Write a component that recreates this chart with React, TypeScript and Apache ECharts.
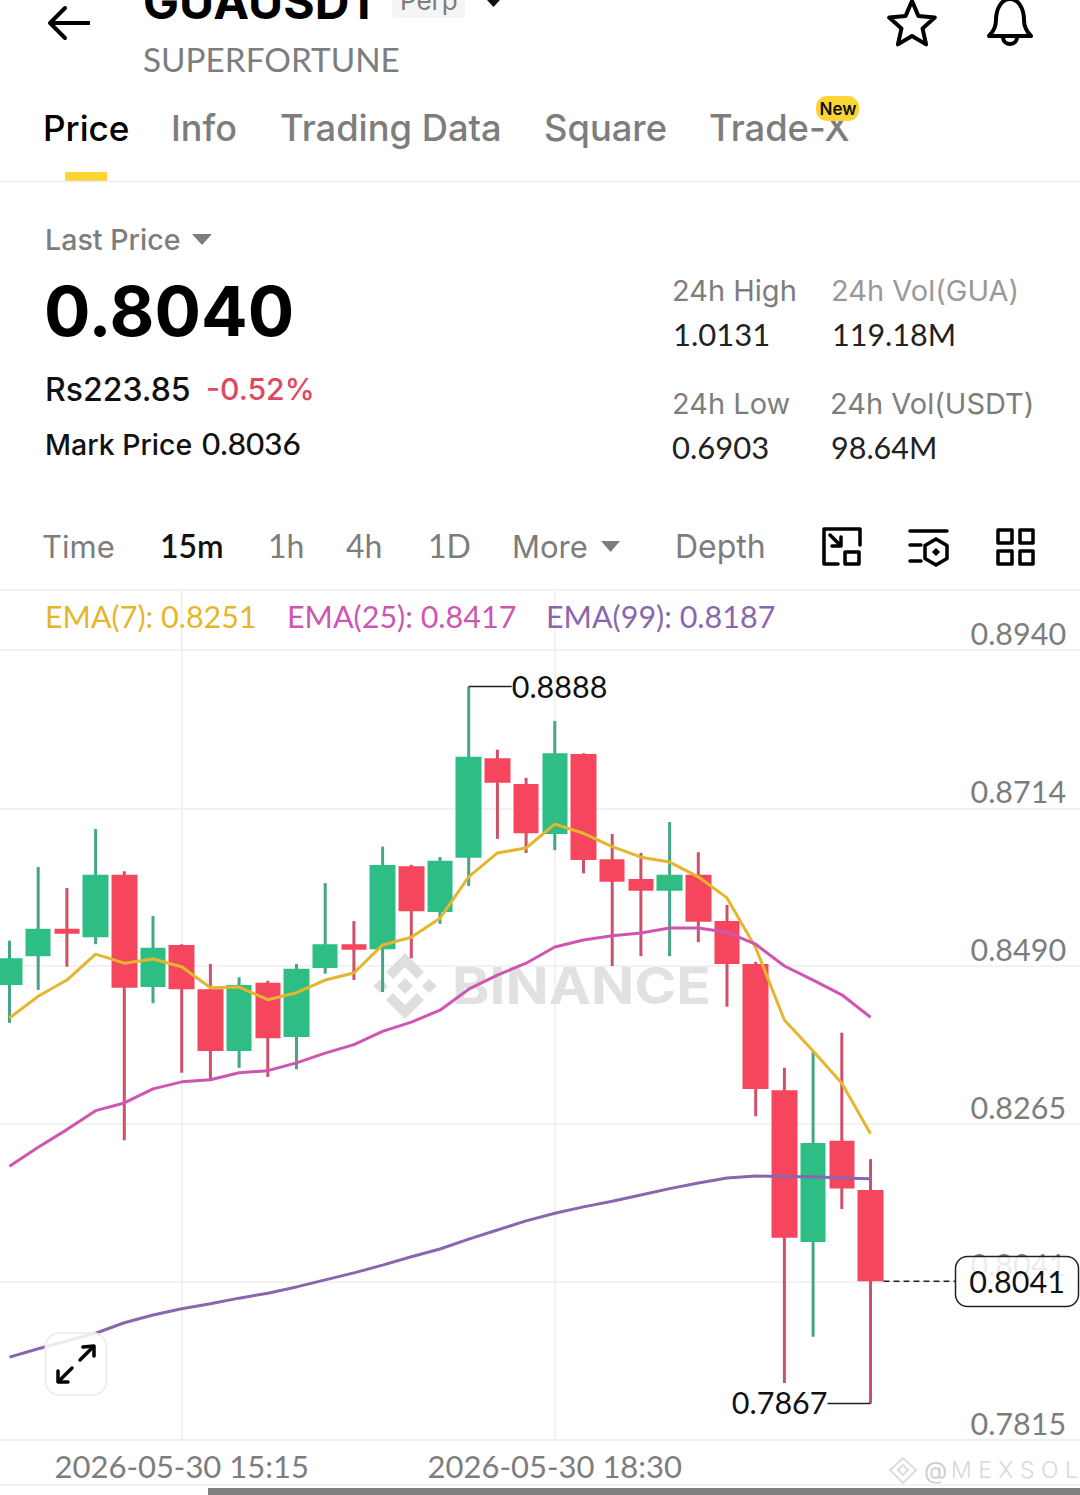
import React, { useEffect, useRef } from "react";
import * as echarts from "echarts";

const timeSlots = ["13:30","13:45","14:00","14:15","14:30","14:45","15:00","15:15","15:30","15:45","16:00","16:15","16:30","16:45","17:00","17:15","17:30","17:45","18:00","18:15","18:30","18:45","19:00","19:15","19:30","19:45","20:00","20:15","20:30","20:45","21:00","21:15","21:30","21:45","22:00","22:15","22:30","22:45","23:00","23:15"];
const labelledTimes = ["15:15", "18:30"];
const priceTicks = [0.7815, 0.8041, 0.8265, 0.849, 0.8714, 0.894];

// open, close, low, high
const candles = [
  [0.8463,0.8501,0.8409,0.8526],[0.8504,0.8543,0.8456,0.8631],[0.8543,0.8536,0.8489,0.8601],[0.8531,0.862,0.8521,0.8685],
  [0.862,0.8459,0.8242,0.8625],[0.846,0.8516,0.8437,0.8561],[0.852,0.8457,0.8338,0.8521],[0.8457,0.8369,0.8328,0.8493],
  [0.8369,0.8463,0.8345,0.8474],[0.8466,0.8387,0.8332,0.8469],[0.8389,0.8486,0.8343,0.8493],[0.8487,0.8521,0.8479,0.8608],
  [0.8521,0.8513,0.847,0.8554],[0.8514,0.8634,0.8453,0.866],[0.8632,0.8568,0.8501,0.8634],[0.8567,0.864,0.855,0.8645],
  [0.8644,0.8788,0.8604,0.8888],[0.8786,0.8751,0.8671,0.8798],[0.8749,0.8679,0.8651,0.8758],[0.8678,0.8793,0.8655,0.8839],
  [0.8792,0.8641,0.8622,0.8793],[0.8642,0.861,0.849,0.8678],[0.8614,0.8597,0.8504,0.8651],[0.8597,0.862,0.8504,0.8695],
  [0.862,0.8553,0.8524,0.8652],[0.8554,0.8493,0.8432,0.8577],[0.8493,0.8315,0.8276,0.8496],[0.8313,0.8103,0.7896,0.8345],
  [0.8097,0.8238,0.7962,0.837],[0.8241,0.8173,0.8144,0.8395],[0.8171,0.8041,0.7867,0.8215],
];
const ema7 = [0.8416,0.8447,0.847,0.8507,0.8494,0.85,0.8489,0.8459,0.846,0.8442,0.8452,0.847,0.848,0.852,0.8531,0.8558,0.8617,0.8651,0.8658,0.8692,0.8679,0.866,0.8645,0.8638,0.8617,0.8587,0.8516,0.8413,0.8369,0.8323,0.8251];
const ema25 = [0.8205,0.8232,0.8257,0.8284,0.8295,0.8315,0.8325,0.8328,0.8338,0.8341,0.8352,0.8366,0.8378,0.8397,0.841,0.8427,0.8457,0.8477,0.8494,0.8517,0.8527,0.8533,0.8537,0.8544,0.8544,0.8538,0.8521,0.849,0.847,0.8449,0.8417];
const ema99 = [0.7933,0.7945,0.7956,0.7967,0.7982,0.7993,0.8002,0.8009,0.8017,0.8024,0.8033,0.8043,0.8053,0.8064,0.8076,0.8087,0.8101,0.8114,0.8127,0.8138,0.8147,0.8155,0.8164,0.8173,0.8181,0.8188,0.8191,0.819,0.819,0.8188,0.8187];
const highMark = { index: 16, value: 0.8888 };
const lowMark = { index: 30, value: 0.7867 };
const lastClose = 0.8041;

const UP = "#2ebd85", DOWN = "#f6465d", UP_WICK = "#44a588", DOWN_WICK = "#cf5069";
const GREY = "#7d7d7d", GRID = "#eeeeee";
const FONT = "Inter", NUM = "Lato";
const PREFIX = "2026-05-30 ";

echarts.graphic.registerShape("bellIcon", echarts.graphic.extendPath("M989 36 C993 32 996 28 996 20 C996 8 1002 -1 1010 -1 C1018 -1 1024 8 1024 20 C1024 28 1027 32 1031 36 Z M1003 38 C1004 46 1016 46 1017 38", {}));
echarts.graphic.registerShape("frameIcon", echarts.graphic.extendPath("M860 545 V529 H824 V564 H838 M845 552 H859 V564 H845 Z M830 535 L841 546 M841 537 V546 H832", {}));
echarts.graphic.registerShape("filterIcon", echarts.graphic.extendPath("M910 531 H947 M910 545 H921 M910 561 H921 M936 539 L947 545.5 V558.5 L936 565 L925 558.5 V545.5 Z", {}));
echarts.graphic.registerShape("gridIcon", echarts.graphic.extendPath("M998 530 H1012 V543 H998 Z M1020 530 H1033 V543 H1020 Z M998 551 H1012 V564 H998 Z M1020 551 H1033 V564 H1020 Z", {}));
echarts.graphic.registerShape("binanceLogo", echarts.graphic.extendPath("M405 953 L424 972 L417 979 L405 967 L393 979 L386 972 Z M405 1019 L424 1000 L417 993 L405 1005 L393 993 L386 1000 Z M405 978 L413 986 L405 994 L397 986 Z M381 979 L388 986 L381 993 L373 986 Z M429 979 L437 986 L429 993 L422 986 Z", {}));
echarts.graphic.registerShape("mexLogo", echarts.graphic.extendPath("M903 1458 L916 1470 L903 1483 L890 1470 Z M903 1465 L908 1470 L903 1475 L898 1470 Z", {}));

const txt = (text: string, x: number, y: number, size: number, fill: string, weight: any = 400, align = "left", z = 50, font = FONT, scaleX = 1) => ({
  type: "text", x, y, z, silent: true, scaleX,
  style: { text, fontSize: size, fontFamily: font, fontWeight: weight, fill, align, verticalAlign: "middle" },
});
const rect = (x: number, y: number, width: number, height: number, fill: string, r = 0, z = 50, stroke?: string, lineWidth = 0) => ({
  type: "rect", z, silent: true, shape: { x, y, width, height, r }, style: { fill, stroke, lineWidth },
});
const seg = (x1: number, y1: number, x2: number, y2: number, stroke: string, lineWidth = 2, z = 50, lineDash?: number[]) => ({
  type: "line", z, silent: true, shape: { x1, y1, x2, y2 }, style: { stroke, lineWidth, lineDash },
});
const poly = (points: number[][], fill: string, z = 50) => ({ type: "polygon", z, silent: true, shape: { points }, style: { fill } });
const pline = (points: number[][], stroke: string, lineWidth = 3.5, z = 50) => ({
  type: "polyline", z, silent: true, shape: { points }, style: { stroke, lineWidth, fill: "none", lineCap: "round", lineJoin: "round" },
});
const icon = (type: string, stroke = "#000", lineWidth = 3.5, z = 50) => ({ type, z, silent: true, style: { stroke, fill: "none", lineWidth, lineJoin: "round", lineCap: "round" } });

const starPoints = [[912,1],[918.5,16.1],[934.8,17.6],[922.5,28.4],[926.1,44.4],[912,36],[897.9,44.4],[901.5,28.4],[889.2,17.6],[905.5,16.1]];

export default function App() {
  const ref = useRef<HTMLDivElement>(null);
  useEffect(() => {
    document.body.style.margin = "0";
    const chart = echarts.init(ref.current!, undefined, { renderer: "svg", width: 1080, height: 1495 });
    const categories = timeSlots.map((t) => PREFIX + t);
    const isLabelled = (_: number, v: string) => labelledTimes.some((t) => PREFIX + t === v);
    const pad = (a: number[]) => ["-", ...a];
    const base: any = {
      animation: false,
      backgroundColor: "#ffffff",
      grid: { left: -19.2, top: 650, width: 1119.3, height: 790, containLabel: false, outerBoundsMode: "none" },
      xAxis: {
        type: "category", data: categories, boundaryGap: false,
        axisLine: { show: true, lineStyle: { color: GRID, width: 1.5 } },
        axisTick: { show: false },
        axisLabel: { interval: isLabelled, color: GREY, fontFamily: NUM, fontSize: 31, margin: 10 },
        splitLine: { show: true, interval: isLabelled, lineStyle: { color: GRID, width: 1.5 } },
      },
      yAxis: {
        type: "value", position: "right", min: 0.7815, max: 0.894, scale: true,
        axisLine: { show: false },
        axisTick: { show: false, customValues: priceTicks },
        axisLabel: {
          inside: true, margin: 34, customValues: priceTicks, color: GREY, fontFamily: NUM, fontSize: 30.5,
          verticalAlign: "bottom", padding: [0, 0, 2, 0], formatter: (v: number) => v.toFixed(4),
        },
        splitLine: { show: true, lineStyle: { color: GRID, width: 1.5 } },
      },
      series: [
        {
          type: "custom", z: 2, silent: true,
          data: candles.map((c, i) => [i + 1, c[2], c[3], c[1] >= c[0] ? 1 : 0]),
          encode: { x: 0, y: [1, 2] },
          renderItem: (_: any, api: any) => {
            const lo = api.coord([api.value(0), api.value(1)]);
            const hi = api.coord([api.value(0), api.value(2)]);
            return {
              type: "line", shape: { x1: lo[0], y1: lo[1], x2: hi[0], y2: hi[1] },
              style: { stroke: api.value(3) ? UP_WICK : DOWN_WICK, lineWidth: 3 },
            };
          },
        },
        {
          type: "candlestick", z: 3, silent: true, barWidth: 26,
          data: [["-", "-", "-", "-"], ...candles],
          itemStyle: { color: UP, color0: DOWN, borderWidth: 0, borderColor: UP, borderColor0: DOWN },
        },
        { type: "line", z: 4, silent: true, data: pad(ema7), showSymbol: false, lineStyle: { color: "#e5b62d", width: 3 } },
        { type: "line", z: 4, silent: true, data: pad(ema25), showSymbol: false, lineStyle: { color: "#cf55b3", width: 3 } },
        { type: "line", z: 4, silent: true, data: pad(ema99), showSymbol: false, lineStyle: { color: "#8a66ae", width: 3 } },
      ],
    };
    chart.setOption(base);

    const px = (i: number, v: number) => chart.convertToPixel({ gridIndex: 0 }, [i + 1, v]) as number[];
    const hi = px(highMark.index, highMark.value);
    const lo = px(lowMark.index, lowMark.value);
    const last = px(30, lastClose);
    const v15 = px(6, 0.85)[0];
    const v18 = px(19, 0.85)[0];

    const graphic: any[] = [
      // header
      txt("GUAUSDT", 143, 1, 48, "#000", 700),
      rect(392, -10, 73, 28, "#f5f5f5", 4),
      txt("Perp", 400, 0, 26, GREY, 400, "left", 51),
      poly([[487, 0], [500, 0], [493.5, 7]], "#111"),
      pline([[65, 8], [50, 23], [65, 38]], "#000", 4),
      seg(50, 23, 90, 23, "#000", 4),
      { type: "polygon", z: 50, silent: true, shape: { points: starPoints }, style: { fill: "none", stroke: "#000", lineWidth: 4, lineJoin: "round" } },
      icon("bellIcon", "#000", 4),
      txt("SUPERFORTUNE", 143, 59, 33.3, GREY, 400, "left", 50, NUM),
      // tabs
      txt("Price", 43, 128, 35.2, "#000", 500),
      txt("Info", 171, 128, 36, GREY, 500),
      txt("Trading Data", 280, 128, 36.3, GREY, 500),
      txt("Square", 544, 128, 36.3, GREY, 500),
      txt("Trade-X", 709, 128, 36.3, GREY, 500),
      rect(816, 96, 43, 25, "#fcd535", 11, 51),
      txt("New", 838, 109, 17, "#111", 600, "center", 52),
      rect(65, 172, 42, 9, "#fcd535"),
      seg(0, 181.5, 1080, 181.5, GRID, 1.5),
      // price block
      txt("Last Price", 45, 239, 28.6, GREY, 500),
      poly([[192, 234], [212, 234], [202, 245]], GREY),
      txt("0.8040", 44, 311, 69, "#000", 700),
      txt("Rs223.85", 45, 389, 32, "#111", 500),
      txt("-0.52%", 206, 389, 30.2, "#e0485f", 500),
      txt("Mark Price", 45, 444, 28.5, "#111", 500),
      txt("0.8036", 202, 443, 31.5, "#111", 500, "left", 50, NUM),
      txt("24h High", 672, 290, 29, GREY),
      txt("1.0131", 673, 334, 31, "#222", 400, "left", 50, NUM),
      txt("24h Vol(GUA)", 831, 290, 29, "#999"),
      txt("119.18M", 832, 334, 30.5, "#222", 400, "left", 50, NUM),
      txt("24h Low", 672, 403, 29, GREY),
      txt("0.6903", 672, 447, 31, "#222", 400, "left", 50, NUM),
      txt("24h Vol(USDT)", 830, 403, 29, GREY),
      txt("98.64M", 831, 447, 30.5, "#222", 400, "left", 50, NUM),
      // interval row
      txt("Time", 42, 546, 31, GREY),
      txt("15m", 160, 545, 32, "#111", 600, "left", 50, NUM),
      txt("1h", 268, 545, 32, GREY, 400, "left", 50, NUM),
      txt("4h", 346, 545, 32, GREY, 400, "left", 50, NUM),
      txt("1D", 428, 545, 32, GREY, 400, "left", 50, NUM),
      txt("More", 512, 546, 31, GREY),
      poly([[601, 541], [620, 541], [610.5, 552]], GREY),
      txt("Depth", 675, 546, 32, GREY),
      icon("frameIcon"),
      icon("filterIcon"),
      poly([[936, 548], [940, 552], [936, 556], [932, 552]], "#000"),
      icon("gridIcon"),
      seg(0, 590, 1080, 590, GRID, 1.5),
      seg(v15, 590, v15, 650, GRID, 1.5, 1),
      seg(v18, 590, v18, 650, GRID, 1.5, 1),
      // legend
      txt("EMA(7): 0.8251", 45, 616, 30.5, "#e5b62d", 400, "left", 50, NUM),
      txt("EMA(25): 0.8417", 287, 616, 30.5, "#cf55b3", 400, "left", 50, NUM),
      txt("EMA(99): 0.8187", 546, 616, 30.5, "#8a66ae", 400, "left", 50, NUM),
      // watermark
      { type: "binanceLogo", z: 1, silent: true, style: { fill: "#dedede" } },
      txt("BINANCE", 452, 986, 51, "#e1e1e1", 700, "left", 1, FONT, 1.113),
      // annotations
      seg(hi[0], hi[1], hi[0] + 43, hi[1], "#222", 1.5),
      txt(highMark.value.toFixed(4), hi[0] + 43, hi[1] - 1, 30.5, "#111", 400, "left", 50, NUM),
      seg(lo[0], lo[1], lo[0] - 43, lo[1], "#222", 1.5),
      txt(lowMark.value.toFixed(4), lo[0] - 43, lo[1] - 1, 30.5, "#111", 400, "right", 50, NUM),
      seg(last[0] + 13, last[1], 955, last[1], "#222", 1.5, 50, [6, 4]),
      rect(955.5, 1256.5, 123, 50, "rgba(255,255,255,0.85)", 12, 50, "#222", 1.5),
      txt(lastClose.toFixed(4), 1017, 1281, 30.5, "#111", 400, "center", 51, NUM),
      // expand button
      rect(45.5, 1333, 61, 62, "rgba(255,255,255,0.85)", 14, 50, "#eeeeee", 2),
      pline([[80, 1360], [93, 1347]], "#000", 3.5, 51),
      pline([[83, 1347], [94, 1346], [94, 1356]], "#000", 3.5, 51),
      pline([[72, 1368], [59, 1381]], "#000", 3.5, 51),
      pline([[58, 1371], [58, 1382], [68, 1382]], "#000", 3.5, 51),
      // footer
      { type: "mexLogo", z: 5, silent: true, style: { fill: "none", stroke: "#dddddd", lineWidth: 2 } },
      txt("@", 924, 1470, 24, "#cfcfcf", 400),
      txt("M E X S O L", 951, 1470, 23, "#d8d8d8", 300),
      seg(0, 1485, 1080, 1485, GRID, 1.5),
      rect(208, 1488, 872, 7, "#808080"),
    ];
    chart.setOption({ graphic });
    return () => chart.dispose();
  }, []);
  return <div ref={ref} style={{ width: 1080, height: 1495 }} />;
}
